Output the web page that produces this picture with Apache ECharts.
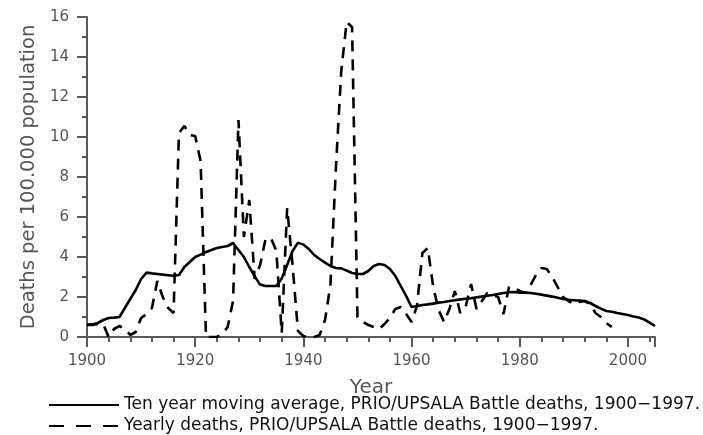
<!DOCTYPE html>
<html>
<head>
<meta charset="utf-8">
<script src="https://cdn.jsdelivr.net/npm/echarts@6/dist/echarts.min.js"></script>
<style>
  html, body { margin: 0; padding: 0; background: #fff; }
  #chart { width: 703px; height: 435px; }
</style>
</head>
<body>
<div id="chart"></div>
<script>
// ten year moving average, 1900-2005
const avgYears = [
  1900, 1901, 1902, 1903, 1904, 1905, 1906, 1907, 1908, 1909,
  1910, 1911, 1912, 1913, 1914, 1915, 1916, 1917, 1918, 1919,
  1920, 1921, 1922, 1923, 1924, 1925, 1926, 1927, 1928, 1929,
  1930, 1931, 1932, 1933, 1934, 1935, 1936, 1937, 1938, 1939,
  1940, 1941, 1942, 1943, 1944, 1945, 1946, 1947, 1948, 1949,
  1950, 1951, 1952, 1953, 1954, 1955, 1956, 1957, 1958, 1959,
  1960, 1961, 1962, 1963, 1964, 1965, 1966, 1967, 1968, 1969,
  1970, 1971, 1972, 1973, 1974, 1975, 1976, 1977, 1978, 1979,
  1980, 1981, 1982, 1983, 1984, 1985, 1986, 1987, 1988, 1989,
  1990, 1991, 1992, 1993, 1994, 1995, 1996, 1997, 1998, 1999,
  2000, 2001, 2002, 2003, 2004, 2005
];
const avgValues = [
  0.62, 0.63, 0.7, 0.85, 0.95, 0.97, 1.0, 1.45, 1.9, 2.35,
  2.9, 3.22, 3.18, 3.15, 3.12, 3.09, 3.06, 3.1, 3.5, 3.75,
  4.0, 4.12, 4.25, 4.35, 4.45, 4.5, 4.55, 4.7, 4.35, 4.0,
  3.5, 3.03, 2.62, 2.55, 2.55, 2.55, 2.93, 3.6, 4.3, 4.72,
  4.62, 4.4, 4.1, 3.9, 3.72, 3.55, 3.45, 3.43, 3.32, 3.2,
  3.15, 3.15, 3.3, 3.55, 3.65, 3.6, 3.4, 3.05, 2.55, 2.05,
  1.5, 1.55, 1.6, 1.63, 1.67, 1.72, 1.75, 1.8, 1.84, 1.88,
  1.91, 1.94, 1.98, 2.02, 2.06, 2.1, 2.15, 2.2, 2.24, 2.25,
  2.22, 2.22, 2.2, 2.16, 2.12, 2.07, 2.02, 1.96, 1.9, 1.86,
  1.84, 1.82, 1.8, 1.7, 1.55, 1.42, 1.3, 1.26, 1.2, 1.15,
  1.1, 1.03, 0.97, 0.88, 0.72, 0.55
];

// yearly deaths, 1900-1997
const yearlyYears = [
  1900, 1901, 1902, 1903, 1904, 1905, 1906, 1907, 1908, 1909,
  1910, 1911, 1912, 1913, 1914, 1915, 1916, 1917, 1918, 1919,
  1920, 1921, 1922, 1923, 1924, 1925, 1926, 1927, 1928, 1929,
  1930, 1931, 1932, 1933, 1934, 1935, 1936, 1937, 1938, 1939,
  1940, 1941, 1942, 1943, 1944, 1945, 1946, 1947, 1948, 1949,
  1950, 1951, 1952, 1953, 1954, 1955, 1956, 1957, 1958, 1959,
  1960, 1961, 1962, 1963, 1964, 1965, 1966, 1967, 1968, 1969,
  1970, 1971, 1972, 1973, 1974, 1975, 1976, 1977, 1978, 1979,
  1980, 1981, 1982, 1983, 1984, 1985, 1986, 1987, 1988, 1989,
  1990, 1991, 1992, 1993, 1994, 1995, 1996, 1997
];
const yearlyValues = [
  0.6, 0.6, 0.65, 0.65, 0, 0.4, 0.55, 0.4, 0.1, 0.25,
  0.95, 1.15, 1.45, 2.8, 2.0, 1.45, 1.2, 10.2, 10.55, 10.1,
  10.05, 8.8, 0, 0, 0, 0.15, 0.5, 1.8, 10.85, 5.0,
  6.85, 2.9, 3.6, 4.9, 4.95, 4.3, 0.2, 6.45, 3.6, 0.3,
  0.05, 0, 0, 0.1, 0.85, 2.6, 8.4, 13.3, 15.75, 15.5,
  1.0, 0.75, 0.6, 0.5, 0.4, 0.65, 0.95, 1.4, 1.5, 1.15,
  0.75, 1.55, 4.2, 4.45, 2.5, 1.35, 0.75, 1.4, 2.3, 1.2,
  1.5, 2.65, 1.4, 1.8, 2.2, 2.1, 2.0, 1.15, 2.5, 2.45,
  2.3, 2.2, 2.6, 3.1, 3.45, 3.4, 3.0, 2.5, 2.0, 1.8,
  1.65, 1.75, 1.8, 1.65, 1.2, 1.0, 0.7, 0.5
];

const avgName = 'Ten year moving average, PRIO/UPSALA Battle deaths, 1900\u22121997.';
const yearlyName = 'Yearly deaths, PRIO/UPSALA Battle deaths, 1900\u22121997.';

const chart = echarts.init(document.getElementById('chart'));

const axisGrey = '#5a5a5a';
const labelGrey = '#555';

const legendBase = {
  left: 48,
  padding: 0,
  itemWidth: 70,
  itemHeight: 14,
  itemStyle: { opacity: 0 },
  selectedMode: false,
  textStyle: { fontFamily: 'DejaVu Sans', fontSize: 17, lineHeight: 18, color: '#111' }
};

const option = {
  animation: false,
  grid: { left: 87, right: 48, top: 17, bottom: 98 },
  legend: [
    Object.assign({}, legendBase, { top: 396, data: [{ name: avgName }] }),
    Object.assign({}, legendBase, { top: 417, data: [{ name: yearlyName, lineStyle: { type: [15, 12] } }] })
  ],
  xAxis: {
    type: 'value',
    min: 1900,
    max: 2005,
    interval: 20,
    name: 'Year',
    nameLocation: 'middle',
    nameGap: 41,
    nameTextStyle: { fontFamily: 'DejaVu Sans', fontSize: 20, color: labelGrey },
    axisLine: { onZero: false, lineStyle: { color: axisGrey, width: 2 } },
    axisTick: { length: 10, lineStyle: { color: axisGrey, width: 2 } },
    minorTick: { show: true, splitNumber: 5, length: 5, lineStyle: { color: axisGrey, width: 2 } },
    axisLabel: {
      margin: 17, fontFamily: 'DejaVu Sans', fontSize: 15, color: labelGrey,
      formatter: v => String(v)
    },
    splitLine: { show: false }
  },
  yAxis: {
    type: 'value',
    min: 0,
    max: 16,
    interval: 2,
    name: 'Deaths per 100.000 population',
    nameLocation: 'middle',
    nameGap: 48,
    nameRotate: 90,
    nameTextStyle: { fontFamily: 'DejaVu Sans', fontSize: 19.5, color: labelGrey },
    axisLine: { show: true, lineStyle: { color: axisGrey, width: 2 } },
    axisTick: { show: true, length: 10, lineStyle: { color: axisGrey, width: 2 } },
    minorTick: { show: true, splitNumber: 2, length: 5, lineStyle: { color: axisGrey, width: 2 } },
    axisLabel: { margin: 18, fontFamily: 'DejaVu Sans', fontSize: 15, color: labelGrey },
    splitLine: { show: false }
  },
  series: [
    {
      name: avgName,
      type: 'line',
      symbol: 'none',
      lineStyle: { color: '#000', width: 2.6 },
      itemStyle: { color: '#000' },
      data: avgYears.map((y, i) => [y, avgValues[i]])
    },
    {
      name: yearlyName,
      type: 'line',
      symbol: 'none',
      lineStyle: { color: '#000', width: 2.6, type: [11, 8] },
      itemStyle: { color: '#000' },
      data: yearlyYears.map((y, i) => [y, yearlyValues[i]])
    }
  ]
};

chart.setOption(option);
</script>
</body>
</html>
